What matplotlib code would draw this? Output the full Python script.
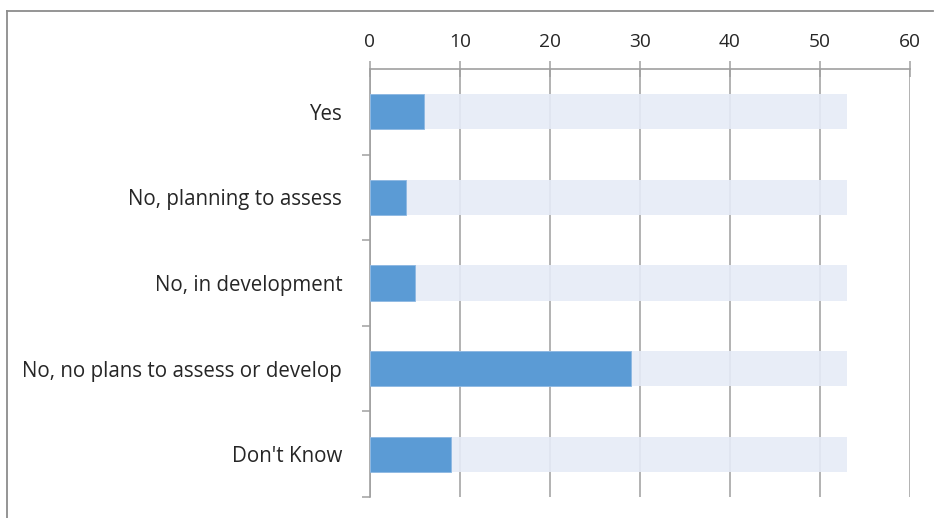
import matplotlib
matplotlib.use("Agg")
import matplotlib.pyplot as plt
import numpy as np
from matplotlib.lines import Line2D

plt.rcParams['font.family'] = ['Open Sans', 'DejaVu Sans']

categories = ['Yes', 'No, planning to assess', 'No, in development',
              'No, no plans to assess or develop', "Don't Know"]
counts = [6, 4, 5, 29, 9]
total = sum(counts)

fig = plt.figure(figsize=(9.37, 5.18), dpi=100)
ax = fig.add_axes([370/937, 1 - 497/518, 540/937, 428/518])

y = np.arange(len(categories))
# light backdrop bar showing the total, then the actual count on top
ax.barh(y, [total]*len(categories), height=0.41, color='#E6EBF7', alpha=0.9, zorder=3)
ax.barh(y, counts, height=0.41, color='#5B9BD5', edgecolor='#8DB8E2', linewidth=0.6, zorder=4)

ax.set_xlim(0, 60)
ax.set_ylim(len(categories) - 0.5, -0.5)
ax.xaxis.tick_top()
ax.set_xticks(range(0, 61, 10))
ax.tick_params(axis='x', direction='inout', length=11.5, width=1.1, color='#A0A0A0',
               labelsize=13.8, labelcolor='#262626', pad=7)
ax.grid(axis='x', color='#A6A6A6', linewidth=1.2, zorder=1)
ax.set_axisbelow(True)

ax.set_yticks(y)
ax.set_yticklabels(categories)
ax.set_yticks(np.arange(0.5, len(categories), 1), minor=True)
ax.tick_params(axis='y', which='major', length=0, labelsize=14.8,
               labelcolor='#262626', pad=20)
ax.tick_params(axis='y', which='minor', length=6, width=1.1, color='#A0A0A0')

for s in ['right', 'bottom']:
    ax.spines[s].set_visible(False)
ax.spines['left'].set_color('#A0A0A0')
ax.spines['top'].set_color('#A0A0A0')
ax.spines['left'].set_linewidth(1.2)
ax.spines['top'].set_linewidth(1.2)

# chart frame: only the top and left edges are inside the canvas
fx0, fy0, fx1 = 7.5/937, 1 - 10.5/518, 933/937
fig.add_artist(Line2D([fx0, fx1], [fy0, fy0], transform=fig.transFigure,
                      color='#8C8C8C', linewidth=1.3))
fig.add_artist(Line2D([fx0, fx0], [fy0, 0], transform=fig.transFigure,
                      color='#8C8C8C', linewidth=1.3))

fig.savefig('out.png', dpi=100)
